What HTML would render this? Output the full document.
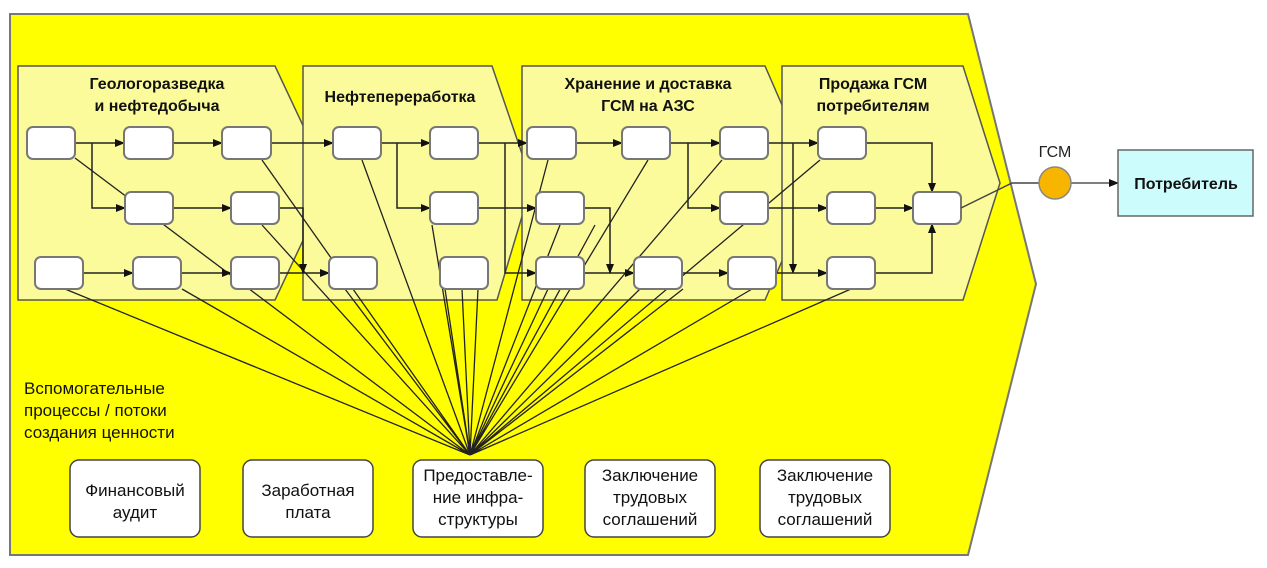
<!DOCTYPE html>
<html><head><meta charset="utf-8"><style>
body{margin:0;background:#fff;width:1267px;height:563px;overflow:hidden}
svg text{font-family:"Liberation Sans","DejaVu Sans",sans-serif}
</style></head><body>
<svg width="1267" height="563" viewBox="0 0 1267 563">
<defs><marker id="a" markerWidth="10" markerHeight="8" refX="9" refY="4" orient="auto" markerUnits="userSpaceOnUse"><path d="M0,0L10,4L0,8z" fill="#111"/></marker></defs>
<polygon points="10,14 968,14 1036,284 968,555 10,555" fill="#ffff00" stroke="#777" stroke-width="2"/>
<g fill="#fbfb9c" stroke="#555" stroke-width="1.5">
<polygon points="18,66 275,66 330,183 275,300 18,300"/>
<polygon points="303,66 492,66 532,183 497,300 303,300"/>
<polygon points="522,66 765,66 816,183 765,300 522,300"/>
<polygon points="782,66 963,66 1000,183 963,300 782,300"/>
</g>
<g font-weight="bold" font-size="16" text-anchor="middle" fill="#111">
<text x="157" y="89">Геологоразведка</text><text x="157" y="111">и нефтедобыча</text>
<text x="400" y="102">Нефтепереработка</text>
<text x="648" y="89">Хранение и доставка</text><text x="648" y="111">ГСМ на АЗС</text>
<text x="873" y="89">Продажа  ГСМ</text><text x="873" y="111">потребителям</text>
</g>
<!-- support lines -->
<g stroke="#222" stroke-width="1.3" fill="none">
<path d="M470,455L75,158M470,455L262,160M470,455L362,160M470,455L65,289M470,455L182,289M470,455L262,225M470,455L345,289M470,455L432,225M470,455L445,289M470,455L462,289M470,455L478,289M470,455L548,160M470,455L648,160M470,455L722,160M470,455L560,225M470,455L548,289M470,455L595,225M470,455L820,160M470,455L752,289M470,455L851,289M470,455L683,289M470,455L640,289"/>
</g>
<!-- flow connectors -->
<g stroke="#222" stroke-width="1.5" fill="none" marker-end="url(#a)">
<path d="M75,143H124"/><path d="M173,143H222"/><path d="M271,143H333"/><path d="M381,143H430"/><path d="M478,143H527"/><path d="M576,143H622"/><path d="M670,143H720"/><path d="M768,143H818"/>
<path d="M92,143V208H125"/><path d="M173,208H231"/><path d="M83,273H133"/><path d="M181,273H231"/><path d="M279,273H329"/>
<path d="M279,208H303V273"/><path d="M397,143V208H430"/>
<path d="M505,143V273H536"/><path d="M478,208H536"/>
<path d="M584,273H634"/><path d="M584,208H610V273"/>
<path d="M688,143V208H720"/><path d="M682,273H728"/>
<path d="M793,143V273"/><path d="M768,208H827"/><path d="M776,273H827"/>
<path d="M866,143H932V192"/><path d="M875,208H913"/><path d="M875,273H932V224"/>
</g>
<g fill="#fff" stroke="#777" stroke-width="2">
<rect x="27" y="127" width="48" height="32" rx="6"/><rect x="124" y="127" width="49" height="32" rx="6"/><rect x="222" y="127" width="49" height="32" rx="6"/><rect x="333" y="127" width="48" height="32" rx="6"/><rect x="430" y="127" width="48" height="32" rx="6"/><rect x="527" y="127" width="49" height="32" rx="6"/><rect x="622" y="127" width="48" height="32" rx="6"/><rect x="720" y="127" width="48" height="32" rx="6"/><rect x="818" y="127" width="48" height="32" rx="6"/>
<rect x="125" y="192" width="48" height="32" rx="6"/><rect x="231" y="192" width="48" height="32" rx="6"/><rect x="430" y="192" width="48" height="32" rx="6"/><rect x="536" y="192" width="48" height="32" rx="6"/><rect x="720" y="192" width="48" height="32" rx="6"/><rect x="827" y="192" width="48" height="32" rx="6"/><rect x="913" y="192" width="48" height="32" rx="6"/>
<rect x="35" y="257" width="48" height="32" rx="6"/><rect x="133" y="257" width="48" height="32" rx="6"/><rect x="231" y="257" width="48" height="32" rx="6"/><rect x="329" y="257" width="48" height="32" rx="6"/><rect x="440" y="257" width="48" height="32" rx="6"/><rect x="536" y="257" width="48" height="32" rx="6"/><rect x="634" y="257" width="48" height="32" rx="6"/><rect x="728" y="257" width="48" height="32" rx="6"/><rect x="827" y="257" width="48" height="32" rx="6"/>
</g>
<path d="M961,208L1012,183H1039" stroke="#444" stroke-width="1.5" fill="none"/>
<path d="M1071,183H1118" stroke="#555" stroke-width="1.5" fill="none" marker-end="url(#a)"/>
<circle cx="1055" cy="183" r="16" fill="#f7b500" stroke="#888" stroke-width="1.5"/>
<text x="1055" y="157" font-size="16" text-anchor="middle" fill="#222">ГСМ</text>
<rect x="1118" y="150" width="135" height="66" fill="#cdfcfc" stroke="#666" stroke-width="1.5"/>
<text x="1186" y="189" font-size="16" font-weight="bold" text-anchor="middle" fill="#111">Потребитель</text>
<g font-size="17" fill="#111">
<text x="24" y="394">Вспомогательные</text><text x="24" y="416">процессы / потоки</text><text x="24" y="438">создания ценности</text>
</g>
<g fill="#fff" stroke="#444" stroke-width="1.5">
<rect x="70" y="460" width="130" height="77" rx="9"/><rect x="243" y="460" width="130" height="77" rx="9"/><rect x="413" y="460" width="130" height="77" rx="9"/><rect x="585" y="460" width="130" height="77" rx="9"/><rect x="760" y="460" width="130" height="77" rx="9"/>
</g>
<g font-size="17" fill="#111" text-anchor="middle">
<text x="135" y="496">Финансовый</text><text x="135" y="518">аудит</text>
<text x="308" y="496">Заработная</text><text x="308" y="518">плата</text>
<text x="478" y="481">Предоставле-</text><text x="478" y="503">ние инфра-</text><text x="478" y="525">структуры</text>
<text x="650" y="481">Заключение</text><text x="650" y="503">трудовых</text><text x="650" y="525">соглашений</text>
<text x="825" y="481">Заключение</text><text x="825" y="503">трудовых</text><text x="825" y="525">соглашений</text>
</g>
</svg>
</body></html>
